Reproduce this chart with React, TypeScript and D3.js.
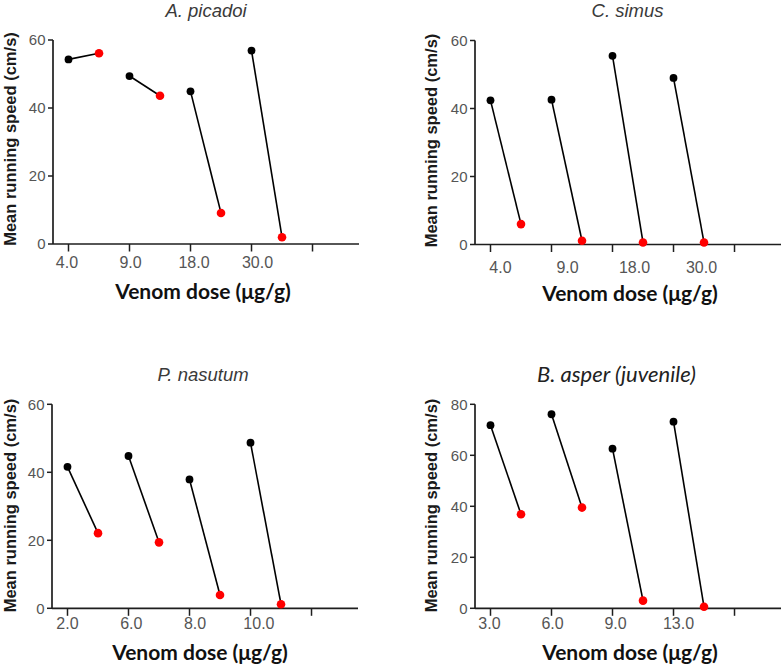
import React from 'react';
import * as d3 from 'd3';

// ---- data ----
const titles = ['A. picadoi', 'C. simus', 'P. nasutum', 'B. asper (juvenile)'];

const dosesPicadoi = ['4.0', '9.0', '18.0', '30.0'];
const beforePicadoi = [54.3, 49.4, 44.9, 56.9];
const afterPicadoi = [56.1, 43.6, 9.1, 2.0];

const dosesSimus = ['4.0', '9.0', '18.0', '30.0'];
const beforeSimus = [42.4, 42.6, 55.5, 49.0];
const afterSimus = [6.0, 1.1, 0.6, 0.6];

const dosesNasutum = ['2.0', '6.0', '8.0', '10.0'];
const beforeNasutum = [41.6, 44.8, 37.9, 48.7];
const afterNasutum = [22.1, 19.4, 3.9, 1.2];

const dosesAsper = ['3.0', '6.0', '9.0', '13.0'];
const beforeAsper = [71.8, 76.1, 62.6, 73.2];
const afterAsper = [36.9, 39.5, 3.0, 0.6];

const yTicks60 = [0, 20, 40, 60];
const yTicks80 = [0, 20, 40, 60, 80];

const xLabel = 'Venom dose (\u03bcg/g)';
const yLabel = 'Mean running speed (cm/s)';

// ---- layout ----
type PanelCfg = {
  title: string;
  titleX: number;
  titleY: number;
  titleStyle: 'arial' | 'calibri';
  doses: string[];
  before: number[];
  after: number[];
  yMax: number;
  yTicks: number[];
  left: number;
  bottom: number;
  labelOffset: number;
  labelDrift: number;
  tickLabelY: number;
  xLabelX: number;
  xLabelY: number;
  yLabelX: number;
  yLabelY: number;
};

const panels: PanelCfg[] = [
  {
    title: titles[0], titleX: 206, titleY: 17, titleStyle: 'arial',
    doses: dosesPicadoi, before: beforePicadoi, after: afterPicadoi,
    yMax: 60, yTicks: yTicks60, left: 53, bottom: 244,
    labelOffset: -1.5, labelDrift: 2.5, tickLabelY: 267.5,
    xLabelX: 203, xLabelY: 299, yLabelX: 12, yLabelY: 139,
  },
  {
    title: titles[1], titleX: 627.5, titleY: 17, titleStyle: 'arial',
    doses: dosesSimus, before: beforeSimus, after: afterSimus,
    yMax: 60, yTicks: yTicks60, left: 475, bottom: 244.5,
    labelOffset: 10, labelDrift: 6, tickLabelY: 272.5,
    xLabelX: 630, xLabelY: 301, yLabelX: 433, yLabelY: 140.5,
  },
  {
    title: titles[2], titleX: 203, titleY: 380.5, titleStyle: 'arial',
    doses: dosesNasutum, before: beforeNasutum, after: afterNasutum,
    yMax: 60, yTicks: yTicks60, left: 52, bottom: 608.3,
    labelOffset: 0, labelDrift: 2.8, tickLabelY: 628.5,
    xLabelX: 200, xLabelY: 660, yLabelX: 12, yLabelY: 505.5,
  },
  {
    title: titles[3], titleX: 616.5, titleY: 381.5, titleStyle: 'calibri',
    doses: dosesAsper, before: beforeAsper, after: afterAsper,
    yMax: 80, yTicks: yTicks80, left: 475, bottom: 608.3,
    labelOffset: -1, labelDrift: 2, tickLabelY: 628.5,
    xLabelX: 630, xLabelY: 660, yLabelX: 433, yLabelY: 505.5,
  },
];

const AXIS_LEN = 306;
const PLOT_H = 204;
const AXIS_COLOR = '#1e1e1e';
const TICK_COLOR = '#555';

function Panel({ cfg }: { cfg: PanelCfg }) {
  const x = d3.scaleLinear().domain([-0.254, 4.762]).range([cfg.left, cfg.left + AXIS_LEN]);
  const y = d3.scaleLinear().domain([0, cfg.yMax]).range([cfg.bottom, cfg.bottom - PLOT_H]);
  const tickIdx = d3.range(5);
  const pairs = cfg.before.map((b, i) => ({
    x1: x(i),
    y1: y(b),
    x2: x(i + 0.5),
    y2: y(cfg.after[i]),
  }));
  const line = d3.line<[number, number]>();
  const fsYLabel = 16.5;

  return (
    <g>
      {/* title */}
      <text
        x={cfg.titleX}
        y={cfg.titleY}
        textAnchor="middle"
        fontStyle="italic"
        fontFamily={cfg.titleStyle === 'arial' ? "'Liberation Sans', Arial, sans-serif" : "Lato, 'Open Sans', sans-serif"}
        fontSize={cfg.titleStyle === 'arial' ? 18.5 : 22}
        fill={cfg.titleStyle === 'arial' ? '#3a3a3a' : '#222'}
      >
        {cfg.title}
      </text>

      {/* y axis */}
      <line x1={cfg.left} x2={cfg.left} y1={y(cfg.yMax)} y2={cfg.bottom} stroke={AXIS_COLOR} strokeWidth={1.7} />
      {cfg.yTicks.map((t) => (
        <g key={'yt' + t}>
          <line x1={cfg.left - 5} x2={cfg.left} y1={y(t)} y2={y(t)} stroke={AXIS_COLOR} strokeWidth={1.5} />
          <text
            x={cfg.left - 7.5}
            y={y(t)}
            dy="0.36em"
            textAnchor="end"
            fontFamily="'Liberation Sans', Arial, sans-serif"
            fontSize={15}
            fill={TICK_COLOR}
          >
            {t}
          </text>
        </g>
      ))}

      {/* x axis */}
      <line x1={cfg.left} x2={cfg.left + AXIS_LEN} y1={cfg.bottom} y2={cfg.bottom} stroke={AXIS_COLOR} strokeWidth={1.7} />
      {tickIdx.map((i) => (
        <line key={'xt' + i} x1={x(i)} x2={x(i)} y1={cfg.bottom} y2={cfg.bottom + 7.5} stroke={AXIS_COLOR} strokeWidth={1.5} />
      ))}
      {cfg.doses.map((d, i) => (
        <text
          key={'xl' + i}
          x={x(i) + cfg.labelOffset + cfg.labelDrift * i}
          y={cfg.tickLabelY}
          textAnchor="middle"
          fontFamily="'Liberation Sans', Arial, sans-serif"
          fontSize={16}
          fill={TICK_COLOR}
        >
          {d}
        </text>
      ))}

      {/* x label */}
      <text
        x={cfg.xLabelX}
        y={cfg.xLabelY}
        textAnchor="middle"
        fontFamily="Lato, 'Open Sans', sans-serif"
        fontWeight="bold"
        fontSize={21}
        fill="#111"
      >
        {xLabel}
      </text>

      {/* y label */}
      <text
        transform={`translate(${cfg.yLabelX + 0.255 * fsYLabel},${cfg.yLabelY}) rotate(-90)`}
        textAnchor="middle"
        fontFamily="'Liberation Sans', Arial, sans-serif"
        fontWeight="bold"
        fontSize={fsYLabel}
        fill="#1a1a1a"
      >
        {yLabel}
      </text>

      {/* data */}
      {pairs.map((p, i) => (
        <path
          key={'ln' + i}
          d={line([[p.x1, p.y1], [p.x2, p.y2]]) || ''}
          stroke="#000"
          strokeWidth={1.6}
          fill="none"
        />
      ))}
      {pairs.map((p, i) => (
        <circle key={'b' + i} cx={p.x1} cy={p.y1} r={3.9} fill="#000" />
      ))}
      {pairs.map((p, i) => (
        <circle key={'r' + i} cx={p.x2} cy={p.y2} r={4.3} fill="#ff0000" />
      ))}
    </g>
  );
}

export default function App() {
  return (
    <svg
      width={784}
      height={667}
      viewBox="0 0 784 667"
      style={{ position: 'absolute', left: 0, top: 0, background: '#fff' }}
    >
      <rect x={0} y={0} width={784} height={667} fill="#fff" />
      {panels.map((cfg, i) => (
        <Panel key={i} cfg={cfg} />
      ))}
    </svg>
  );
}
